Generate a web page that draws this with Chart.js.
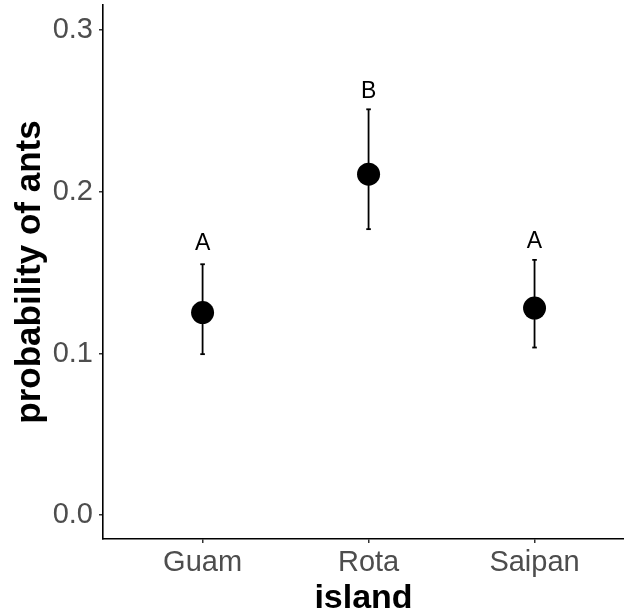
<!DOCTYPE html>
<html lang="en">
<head>
  <meta charset="UTF-8">
  <title>probability of ants by island</title>
  <script src="https://cdn.jsdelivr.net/npm/chart.js"></script>
  <style>
    html, body { margin: 0; padding: 0; background: #fff; overflow: hidden; }
    #wrap { width: 624px; height: 615px; }
  </style>
</head>
<body>
  <div id="wrap"><canvas id="antsChart" width="624" height="615"></canvas></div>

  <script>
    // data
    const islands = ['Guam', 'Rota', 'Saipan'];
    const probMean = [0.1253, 0.2109, 0.1281];
    const probLow  = [0.0996, 0.1769, 0.1037];
    const probHigh = [0.1552, 0.2510, 0.1579];
    const groupLetters = ['A', 'B', 'A'];
    const letterY = [0.1682, 0.2619, 0.1692];
    const yTicks = [0, 0.1, 0.2, 0.3];

    const FONT = '"Liberation Sans", Arial, sans-serif';

    // one small line dataset per error bar, caps drawn as 'line' points
    const errorSets = islands.map((name, i) => ({
      label: name + ' CI',
      data: [{ x: i, y: probLow[i] }, { x: i, y: probHigh[i] }],
      showLine: true,
      borderColor: '#000',
      borderWidth: 1.8,
      pointStyle: 'line',
      pointRadius: 2.3,
      pointBorderWidth: 1.8,
      pointBorderColor: '#000',
      order: 1
    }));

    const letterPlugin = {
      id: 'letters',
      afterDatasetsDraw(chart) {
        const { ctx, scales: { x, y } } = chart;
        ctx.save();
        ctx.fillStyle = '#000';
        ctx.font = '23px ' + FONT;
        ctx.textAlign = 'center';
        ctx.textBaseline = 'middle';
        groupLetters.forEach((t, i) => {
          ctx.fillText(t, x.getPixelForValue(i), y.getPixelForValue(letterY[i]));
        });
        ctx.restore();
      }
    };

    new Chart(document.getElementById('antsChart'), {
      type: 'scatter',
      data: {
        datasets: [
          {
            label: 'mean',
            data: islands.map((n, i) => ({ x: i, y: probMean[i] })),
            backgroundColor: '#000',
            borderColor: '#000',
            pointRadius: 11.5,
            pointBorderWidth: 0,
            order: 0
          },
          ...errorSets
        ]
      },
      options: {
        responsive: false,
        animation: false,
        devicePixelRatio: 1,
        layout: { autoPadding: false, padding: { top: 5, left: 0, right: 0, bottom: 0 } },
        plugins: { legend: { display: false }, tooltip: { enabled: false } },
        scales: {
          x: {
            type: 'linear',
            min: -0.6,
            max: 2.539,
            afterBuildTicks: s => { s.ticks = islands.map((n, i) => ({ value: i })); },
            afterFit: s => { s.height = 76; s.paddingLeft = 0; s.paddingRight = 0; },
            ticks: {
              color: '#4D4D4D',
              font: { family: FONT, size: 29 },
              padding: 3,
              callback: v => islands[v]
            },
            grid: { drawOnChartArea: false, drawTicks: true, tickLength: 4, color: '#333', lineWidth: 1.5 },
            border: { display: true, color: '#000', width: 1.6 },
            title: {
              display: true,
              text: 'island',
              color: '#000',
              font: { family: FONT, size: 34, weight: 'bold' },
              padding: { top: 0, bottom: -4 }
            }
          },
          y: {
            min: -0.0147,
            max: 0.3155,
            afterBuildTicks: s => { s.ticks = yTicks.map(v => ({ value: v })); },
            afterFit: s => { s.width = 103; s.paddingTop = 0; s.paddingBottom = 0; },
            ticks: {
              color: '#4D4D4D',
              font: { family: FONT, size: 29 },
              padding: 6,
              callback: v => v.toFixed(1)
            },
            grid: { drawOnChartArea: false, drawTicks: true, tickLength: 4, color: '#333', lineWidth: 1.5 },
            border: { display: true, color: '#000', width: 1.6 },
            title: {
              display: true,
              text: 'probability of ants',
              color: '#000',
              font: { family: FONT, size: 35, weight: 'bold' },
              padding: { top: 9.6, bottom: 0 }
            }
          }
        }
      },
      plugins: [letterPlugin]
    });
  </script>
</body>
</html>
